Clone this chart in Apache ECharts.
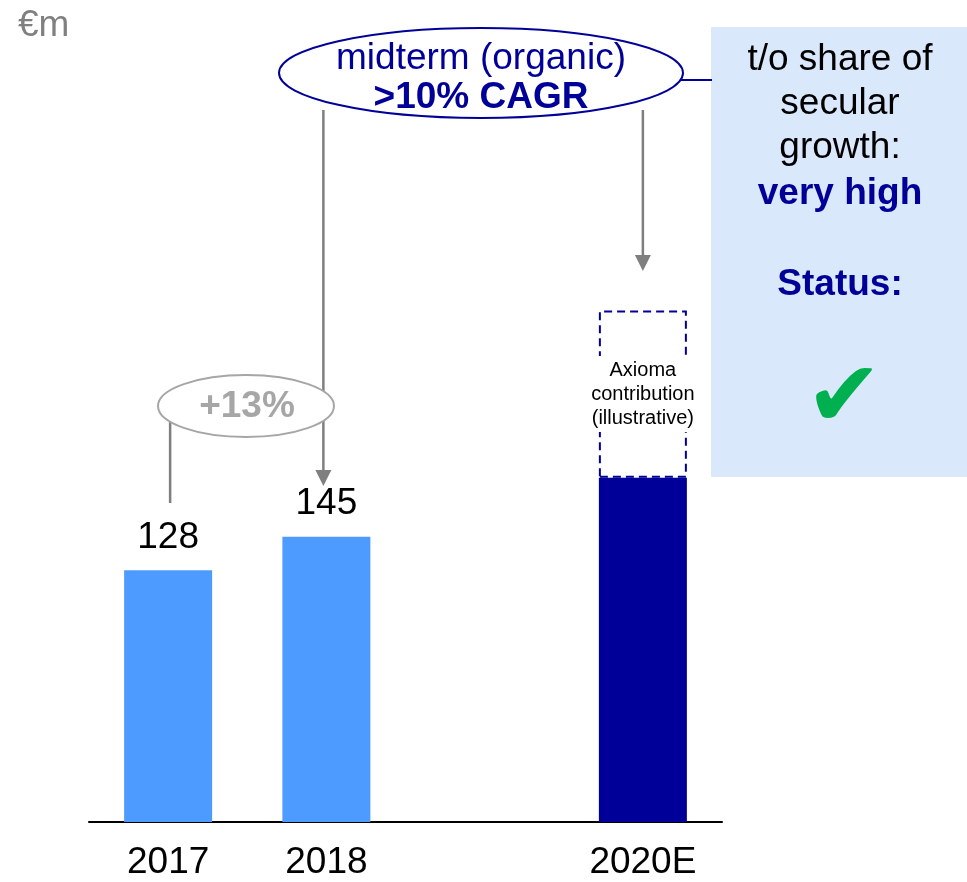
<!DOCTYPE html>
<html>
<head>
<meta charset="utf-8">
<script src="https://cdn.jsdelivr.net/npm/echarts@6/dist/echarts.min.js"></script>
<style>
  html, body { margin: 0; padding: 0; background: #fff; }
  #main { width: 967px; height: 882px; }
</style>
</head>
<body>
<div id="main"></div>
<script>
// data
var categories = ['2017', '2018', '', '2020E'];
var actualValues = [128, 145, null, null];
var organic2020 = [null, null, null, 175];
var axioma2020 = [null, null, null, 85];
var unitLabel = '€m';
var cagrLines = ['midterm (organic)', '>10% CAGR'];
var growthLabel = '+13%';
var sideLines = ['t/o share of', 'secular', 'growth:'];

var FONT = '"Liberation Sans", Arial, sans-serif';
var NAVY = '#000099';
var GREY_LINE = '#7f7f7f';
var GREY_TXT = '#a6a6a6';

window.onload = function () {
    var myChart = echarts.init(document.getElementById('main'));

    var option = {
        animation: false,
        grid: { left: 89, right: 245, top: 35, bottom: 60 },
        xAxis: {
            type: 'category',
            data: categories,
            axisLine: { lineStyle: { color: '#000', width: 2 } },
            axisTick: { show: false },
            axisLabel: { fontSize: 37, color: '#000', fontFamily: FONT, margin: 22 }
        },
        yAxis: { type: 'value', min: 0, max: 400, show: false },
        series: [
            {
                type: 'bar',
                stack: 'total',
                barWidth: 88,
                data: actualValues,
                itemStyle: { color: '#4d9bfe' },
                label: {
                    show: true, position: 'top', distance: 14,
                    fontSize: 37, color: '#000', fontFamily: FONT
                }
            },
            {
                type: 'bar',
                stack: 'total',
                barWidth: 88,
                data: organic2020,
                itemStyle: { color: NAVY }
            },
            {
                type: 'bar',
                stack: 'total',
                barWidth: 88,
                data: axioma2020,
                itemStyle: {
                    color: 'rgba(255,255,255,0)',
                    borderColor: NAVY,
                    borderWidth: 2,
                    borderType: [8, 5]
                },
                label: {
                    show: true, position: 'inside',
                    formatter: 'Axioma\ncontribution\n(illustrative)',
                    fontSize: 20, lineHeight: 24, color: '#000', fontFamily: FONT,
                    backgroundColor: '#fff', padding: [2, 0]
                }
            }
        ]
    };
    myChart.setOption(option);

    // annotation positions, anchored on bar centres
    var x2018 = myChart.convertToPixel({ xAxisIndex: 0 }, '2018') - 3;
    var x2017 = myChart.convertToPixel({ xAxisIndex: 0 }, '2017') + 2;
    var x2020 = myChart.convertToPixel({ xAxisIndex: 0 }, '2020E');

    function arrowHead(x, tipY) {
        return {
            type: 'polygon', z: 5,
            shape: { points: [[x - 8, tipY - 16], [x + 8, tipY - 16], [x, tipY]] },
            style: { fill: GREY_LINE }
        };
    }

    var g = [
        { type: 'text', left: 18, top: 7, style: { text: unitLabel, font: '37px ' + FONT, fill: '#808080' } },
        // side box
        { type: 'rect', z: 1, shape: { x: 711, y: 27, width: 256, height: 450 }, style: { fill: '#dae8fc' } },
        // grey arrows
        { type: 'line', z: 4, shape: { x1: x2018, y1: 110, x2: x2018, y2: 472 }, style: { stroke: GREY_LINE, lineWidth: 2.5 } },
        arrowHead(x2018, 486),
        { type: 'line', z: 4, shape: { x1: x2020, y1: 110, x2: x2020, y2: 257 }, style: { stroke: GREY_LINE, lineWidth: 2.5 } },
        arrowHead(x2020, 271),
        { type: 'line', z: 4, shape: { x1: x2017, y1: 420, x2: x2017, y2: 503 }, style: { stroke: GREY_LINE, lineWidth: 2.5 } },
        // +13% ellipse
        { type: 'ellipse', z: 6, shape: { cx: 246, cy: 406, rx: 88, ry: 31 }, style: { fill: '#fff', stroke: GREY_TXT, lineWidth: 2 } },
        { type: 'text', z: 7, style: { text: growthLabel, x: 247, y: 407, align: 'center', verticalAlign: 'middle', font: 'bold 37px ' + FONT, fill: GREY_TXT } },
        // CAGR ellipse
        { type: 'line', z: 4, shape: { x1: 680, y1: 80, x2: 712, y2: 80 }, style: { stroke: NAVY, lineWidth: 2 } },
        { type: 'ellipse', z: 6, shape: { cx: 481, cy: 73, rx: 202, ry: 45 }, style: { fill: '#fff', stroke: NAVY, lineWidth: 2 } },
        { type: 'text', z: 7, style: { text: cagrLines[0], x: 481, y: 59, align: 'center', verticalAlign: 'middle', font: '37px ' + FONT, fill: NAVY } },
        { type: 'text', z: 7, style: { text: cagrLines[1], x: 481, y: 98, align: 'center', verticalAlign: 'middle', font: 'bold 37px ' + FONT, fill: NAVY } },
        // side box text
        { type: 'text', z: 7, style: { text: 'very high', x: 840, y: 194, align: 'center', verticalAlign: 'middle', font: 'bold 37px ' + FONT, fill: NAVY } },
        { type: 'text', z: 7, style: { text: 'Status:', x: 840, y: 285, align: 'center', verticalAlign: 'middle', font: 'bold 37px ' + FONT, fill: NAVY } },
        { type: 'text', z: 7, style: { text: '\u2714', x: 844, y: 402, align: 'center', verticalAlign: 'middle', font: '92px "DejaVu Sans"', fill: '#00b050' } }
    ];
    for (var i = 0; i < sideLines.length; i++) {
        g.push({ type: 'text', z: 7, style: { text: sideLines[i], x: 840, y: 60 + i * 44, align: 'center', verticalAlign: 'middle', font: '37px ' + FONT, fill: '#000' } });
    }
    myChart.setOption({ graphic: g });
};
</script>
</body>
</html>
